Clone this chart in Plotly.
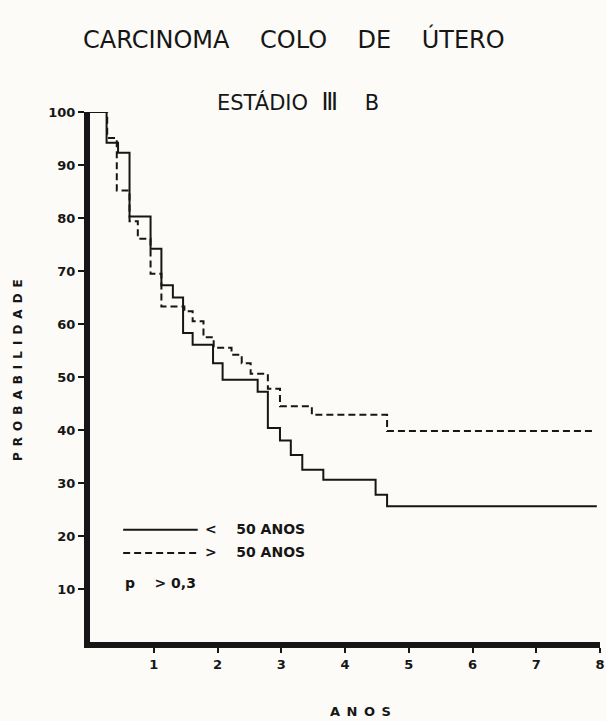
import plotly.graph_objects as go

# ---- data (Kaplan-Meier style steps) ----
young_years = [0, 0.26, 0.44, 0.62, 0.95, 1.12, 1.30, 1.46, 1.61, 1.93, 2.08,
               2.63, 2.79, 2.98, 3.15, 3.33, 3.66, 4.48, 4.66, 7.95]
young_prob = [100, 94.2, 92.3, 80.3, 74.2, 67.3, 65.0, 58.3, 56.1, 52.6, 49.5,
              47.2, 40.4, 38.0, 35.3, 32.5, 30.6, 27.8, 25.6, 25.6]

old_years = [0, 0.27, 0.42, 0.62, 0.75, 0.95, 1.12, 1.48, 1.61, 1.78, 1.94,
             2.22, 2.38, 2.52, 2.79, 2.98, 3.48, 4.66, 7.9]
old_prob = [100, 95.1, 85.2, 79.4, 76.1, 69.5, 63.3, 62.4, 60.5, 57.5, 55.5,
            54.2, 52.6, 50.6, 47.8, 44.5, 42.9, 39.8, 39.8]

x_ticks = [1, 2, 3, 4, 5, 6, 7, 8]
y_ticks = [10, 20, 30, 40, 50, 60, 70, 80, 90, 100]

series_names = ["< 50 ANOS", "> 50 ANOS"]
NB = "\u00a0"
title_text = (NB * 4).join(["CARCINOMA", "COLO", "DE", "ÚTERO"])
subtitle_text = "ESTÁDIO" + NB * 2 + '<span style="font-size:24px">Ⅲ</span>' + NB * 4 + "B"
p_text = "p" + NB * 4 + ">" + NB + "0,3"

INK = "#161616"
PAPER = "#fcfbf7"
FONT = "DejaVu Sans"

fig = go.Figure()
fig.add_trace(go.Scatter(x=young_years, y=young_prob, mode="lines",
                         line=dict(shape="hv", color=INK, width=2),
                         name=series_names[0], showlegend=False))
fig.add_trace(go.Scatter(x=old_years, y=old_prob, mode="lines",
                         line=dict(shape="hv", color=INK, width=2, dash="7px,4px"),
                         name=series_names[1], showlegend=False))

# legend keys drawn manually
fig.add_shape(type="line", xref="x", yref="y", x0=0.52, x1=1.69, y0=21.2, y1=21.2,
              line=dict(color=INK, width=2))
fig.add_shape(type="line", xref="x", yref="y", x0=0.52, x1=1.69, y0=16.8, y1=16.8,
              line=dict(color=INK, width=2, dash="7px,4px"))

bold = dict(family=FONT, size=14, color=INK, weight="bold")
fig.add_annotation(x=1.78, y=21.3, xref="x", yref="y", xanchor="left", yanchor="middle",
                   text="<" + NB * 4 + series_names[0][2:], showarrow=False, font=bold)
fig.add_annotation(x=1.78, y=16.9, xref="x", yref="y", xanchor="left", yanchor="middle",
                   text=">" + NB * 4 + series_names[1][2:], showarrow=False, font=bold)
fig.add_annotation(x=0.52, y=11.1, xref="x", yref="y", xanchor="left", yanchor="middle",
                   text=p_text, showarrow=False, font=bold)

# titles (positions given in pixels, converted below)
fig.add_annotation(x=294, y=39, xref="paper", yref="paper", text=title_text, showarrow=False,
                   font=dict(family=FONT, size=24, color=INK))
fig.add_annotation(x=298, y=102, xref="paper", yref="paper", text=subtitle_text, showarrow=False,
                   font=dict(family=FONT, size=21, color=INK))
fig.add_annotation(x=18, y=370, xref="paper", yref="paper", text="\u2002".join("PROBABILIDADE"),
                   showarrow=False, textangle=-90,
                   font=dict(family=FONT, size=12, color=INK, weight="bold"))
fig.add_annotation(x=360, y=711, xref="paper", yref="paper", text="\u2002".join("ANOS"),
                   showarrow=False, font=dict(family=FONT, size=13, color=INK, weight="bold"))

W, H = 606, 721
ML, MR, MT, MB = 90, 6, 112, 79
pw, ph = W - ML - MR, H - MT - MB
for a in fig.layout.annotations:
    if a.xref == "paper":
        a.x = (a.x - ML) / pw
        a.y = (H - MB - a.y) / ph
        a.xanchor = "center"
        a.yanchor = "middle"

axis_common = dict(showline=True, linewidth=6, linecolor=INK, ticks="outside",
                   tickwidth=2, tickcolor=INK, showgrid=False, zeroline=False,
                   automargin=False,
                   tickfont=dict(family=FONT, size=13, color=INK, weight="bold"))

fig.update_layout(
    template="none",
    width=W, height=H,
    margin=dict(l=ML, r=MR, t=MT, b=MB, pad=0, autoexpand=False),
    paper_bgcolor=PAPER, plot_bgcolor=PAPER,
    xaxis=dict(range=[0, 8], tickvals=x_ticks, ticklen=5, **axis_common),
    yaxis=dict(range=[0, 100], tickvals=y_ticks, ticklen=6, **axis_common),
    showlegend=False,
)

fig.write_html("out.html", config={"displayModeBar": False},
               post_script="document.body.style.margin='0';document.body.style.overflow='hidden';")
